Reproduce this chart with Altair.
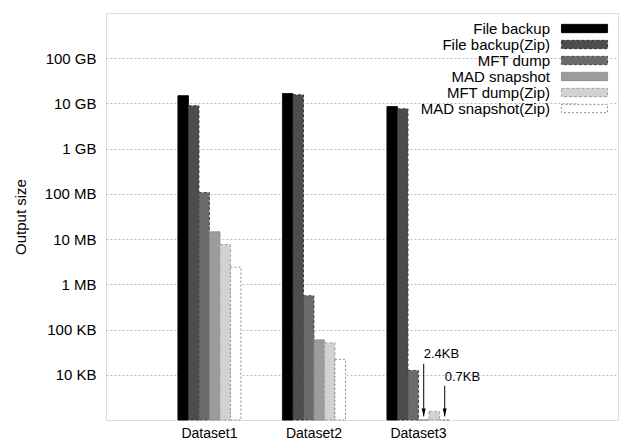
import altair as alt
import pandas as pd

datasets = ["Dataset1", "Dataset2", "Dataset3"]
x_slots = datasets + [" "]  # empty slot to the right of the groups
series = ["File backup", "File backup(Zip)", "MFT dump", "MAD snapshot",
          "MFT dump(Zip)", "MAD snapshot(Zip)"]

# sizes in KB
file_backup = [1.48e7, 1.66e7, 8.5e6]
file_backup_zip = [8.9e6, 1.55e7, 7.6e6]
mft_dump = [1.07e5, 560, 12.5]
mad_snapshot = [1.45e4, 59, 1.0]
mft_dump_zip = [7.6e3, 51, 1.55]
mad_snapshot_zip = [2.4e3, 22, 0.7]

tick_values = [10, 100, 1e3, 1e4, 1e5, 1e6, 1e7, 1e8]
tick_labels = ["10 KB", "100 KB", "1 MB", "10 MB", "100 MB", "1 GB", "10 GB", "100 GB"]

ann_dataset = ["Dataset3", "Dataset3"]
ann_series = ["MAD snapshot", "MAD snapshot(Zip)"]
ann_text = ["2.4KB", "0.7KB"]
ann_label_y = [29, 9]
ann_arrow_top = [17.5, 5.7]
ann_arrow_tip = [1.2, 1.2]

rows = []
for s, vals in zip(series, [file_backup, file_backup_zip, mft_dump, mad_snapshot,
                            mft_dump_zip, mad_snapshot_zip]):
    for d, v in zip(datasets, vals):
        rows.append({"dataset": d, "series": s, "size": v})
df = pd.DataFrame(rows)

ann = pd.DataFrame({"dataset": ann_dataset, "series": ann_series, "label": ann_text,
                    "ly": ann_label_y, "top": ann_arrow_top, "tip": ann_arrow_tip})

fills = ["#000000", "#4d4d4d", "#6b6b6b", "#9c9c9c", "#d2d2d2", "#ffffff"]
strokes = ["#000000", "#333333", "#4a4a4a", "#8c8c8c", "#a0a0a0", "#8c8c8c"]
dashes = [[1, 0], [3, 2], [3, 2], [1, 0], [3, 2], [2, 2]]

FONT = "Liberation Sans"
label_expr = "%s[indexof(%s, datum.value)]" % (tick_labels, tick_values)

xscale = alt.Scale(domain=x_slots, paddingInner=0.397, paddingOuter=0.648, align=0.531)
xenc = alt.X("dataset:N", sort=x_slots, scale=xscale,
             axis=alt.Axis(title=None, labelAngle=0, domain=False, ticks=False,
                           labelPadding=6, labelFontSize=14, labelFont=FONT,
                           labelColor="#000"))
xoff = alt.XOffset("series:N", sort=series,
                   scale=alt.Scale(domain=series, paddingInner=0, paddingOuter=0))
yscale = alt.Scale(type="log", domain=[1, 1e9], clamp=True, nice=False)

bars = alt.Chart(df).mark_bar(strokeWidth=1).encode(
    x=xenc,
    xOffset=xoff,
    y=alt.Y("size:Q", scale=yscale,
            axis=alt.Axis(values=tick_values, labelExpr=label_expr, title="Output size",
                          titleFontSize=15, titleFontWeight="normal", titleFont=FONT,
                          labelFontSize=15, labelFont=FONT, labelColor="#000",
                          titleColor="#000", domain=False, ticks=False, labelPadding=10,
                          titlePadding=16, grid=True, gridDash=[2, 2],
                          gridColor="#bbbbbb")),
    fill=alt.Fill("series:N", sort=series,
                  scale=alt.Scale(domain=series, range=fills),
                  legend=alt.Legend(title=None, orient="none", legendX=471, legendY=8,
                                    symbolType="M-5,-0.9L5,-0.9L5,0.9L-5,0.9Z",
                                    symbolSize=85, labelAlign="right",
                                    labelOffset={"expr": "-42"},
                                    labelFontSize=15, labelFont=FONT, labelColor="#000",
                                    rowPadding=0, symbolStrokeWidth=1,
                                    fillColor="white")),
    stroke=alt.Stroke("series:N", sort=series,
                      scale=alt.Scale(domain=series, range=strokes), legend=None),
    strokeDash=alt.StrokeDash("series:N", sort=series,
                              scale=alt.Scale(domain=series, range=dashes), legend=None),
)

texts = alt.Chart(ann).mark_text(align="left", baseline="middle", fontSize=13,
                                  font=FONT, color="#000").encode(
    x=alt.X("dataset:N", sort=x_slots), xOffset=xoff,
    y=alt.Y("ly:Q", scale=yscale), text="label:N")

arrows = alt.Chart(ann).mark_rule(color="#000", strokeWidth=1).encode(
    x=alt.X("dataset:N", sort=x_slots), xOffset=xoff,
    y=alt.Y("top:Q", scale=yscale), y2="tip:Q")

heads = alt.Chart(ann).mark_point(shape="M0,0L-0.4,-1.6L0.4,-1.6Z", size=100,
                                  filled=True, color="#000", opacity=1).encode(
    x=alt.X("dataset:N", sort=x_slots), xOffset=xoff,
    y=alt.Y("tip:Q", scale=yscale))

chart = alt.layer(bars, arrows, heads, texts).properties(
    width=512, height=407,
    autosize=alt.AutoSizeParams(type="none"),
    padding={"left": 106, "top": 13, "right": 2, "bottom": 21},
).configure_view(stroke="#666666", strokeWidth=2).configure(background="white")

chart.save("out.html", embed_options={"renderer": "svg", "actions": False})
